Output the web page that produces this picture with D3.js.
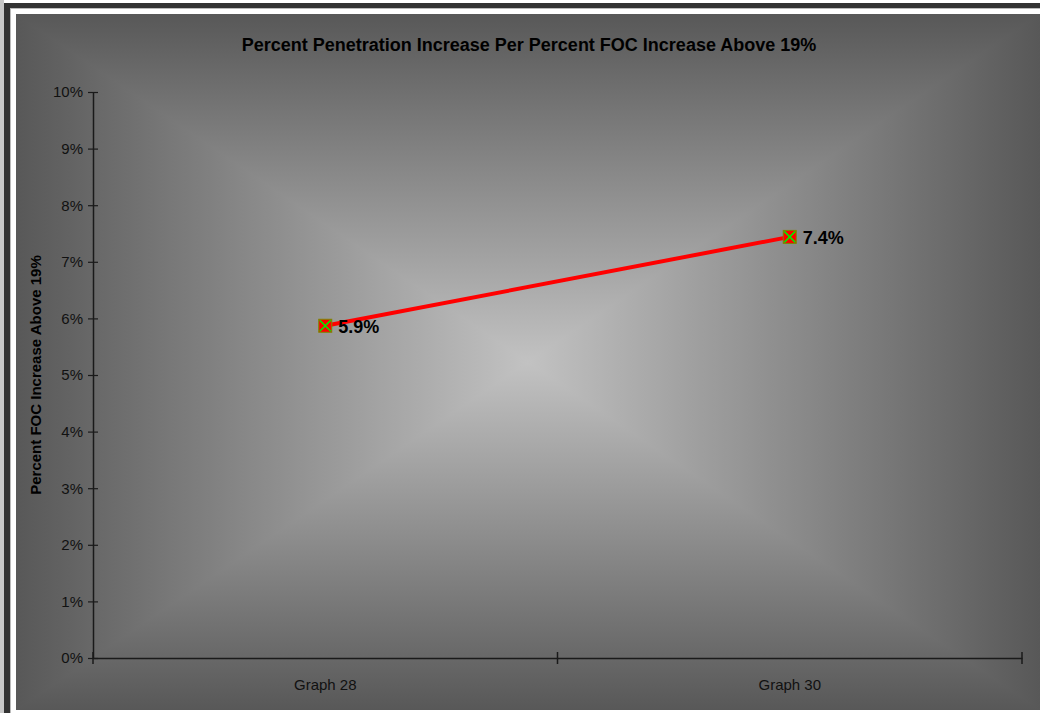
<!DOCTYPE html>
<html><head><meta charset="utf-8">
<script src="https://cdn.jsdelivr.net/npm/d3@7/dist/d3.min.js"></script>
<style>html,body{margin:0;padding:0;background:#fff;overflow:hidden}</style>
</head><body>
<svg id="c" width="1040" height="713"></svg>
<script>
const categories = ["Graph 28", "Graph 30"];
const values = [0.0587, 0.0744];
const labels = ["5.9%", "7.4%"];
const yTicks = [0,0.01,0.02,0.03,0.04,0.05,0.06,0.07,0.08,0.09,0.10];
const title = "Percent Penetration Increase Per Percent FOC Increase Above 19%";
const yTitle = "Percent FOC Increase Above 19%";

const svg = d3.select("#c");
const font = "Liberation Sans, Arial, sans-serif";

// frame
svg.append("rect").attr("x",0).attr("y",0).attr("width",4).attr("height",713).attr("fill","#c8c8c8");
svg.append("rect").attr("x",4).attr("y",3).attr("width",1036).attr("height",710).attr("fill","#333");
svg.append("rect").attr("x",10).attr("y",8).attr("width",1030).attr("height",705).attr("fill","#bbb");
svg.append("rect").attr("x",11).attr("y",9).attr("width",1029).attr("height",704).attr("fill","#fff");

// chart area with box gradient
const X0=16, Y0=14, X1=1040, Y1=710;
const cx=(X0+X1)/2, cy=(Y0+Y1)/2;
const edge="#585858", mid="#c2c2c2";
const defs = svg.append("defs");
function grad(id,x1,y1,x2,y2){
  const g=defs.append("linearGradient").attr("id",id).attr("gradientUnits","userSpaceOnUse")
    .attr("x1",x1).attr("y1",y1).attr("x2",x2).attr("y2",y2);
  g.append("stop").attr("offset",0).attr("stop-color",edge);
  g.append("stop").attr("offset",1).attr("stop-color",mid);
}
grad("gt",0,Y0,0,cy); grad("gb",0,Y1,0,cy); grad("gl",X0,0,cx,0); grad("gr",X1,0,cx,0);
svg.append("rect").attr("x",X0).attr("y",Y0).attr("width",X1-X0).attr("height",Y1-Y0).attr("fill",edge);
const clip = defs.append("clipPath").attr("id","ca");
clip.append("rect").attr("x",X0).attr("y",Y0).attr("width",X1-X0).attr("height",Y1-Y0);
const bg = svg.append("g").attr("clip-path","url(#ca)");
const tri=(pts,f)=>bg.append("polygon").attr("points",pts.map(p=>p.join(",")).join(" "))
  .attr("fill",`url(#${f})`).attr("stroke",`url(#${f})`).attr("stroke-width",1.5).attr("stroke-linejoin","round");
tri([[X0,Y0],[X1,Y0],[cx,cy]],"gt");
tri([[X0,Y1],[X1,Y1],[cx,cy]],"gb");
tri([[X0,Y0],[X0,Y1],[cx,cy]],"gl");
tri([[X1,Y0],[X1,Y1],[cx,cy]],"gr");

// scales
const x = d3.scaleBand().domain(categories).range([93,1022]);
const y = d3.scaleLinear().domain([0,0.10]).range([658,92]);

// title
svg.append("text").attr("x",529).attr("y",51).attr("text-anchor","middle")
  .attr("font-family",font).attr("font-weight","bold").attr("font-size",18).attr("fill","#000").text(title);
svg.append("text").attr("transform","translate(41,375) rotate(-90)").attr("text-anchor","middle")
  .attr("font-family",font).attr("font-weight","bold").attr("font-size",15).attr("fill","#000").text(yTitle);

// y axis
const ya = svg.append("g").attr("transform","translate(93,0)")
  .call(d3.axisLeft(y).tickValues(yTicks).tickFormat(d3.format(".0%")).tickSize(5).tickSizeOuter(0));
ya.select(".domain").attr("stroke","#1a1a1a").attr("stroke-width",1.5);
ya.selectAll(".tick line").attr("stroke","#1a1a1a").attr("stroke-width",1.2).attr("x2",-5).attr("x1",5);
ya.selectAll(".tick text").attr("x",-10).attr("font-family",font).attr("font-size",15).attr("fill","#111");

// x axis
const xa = svg.append("g").attr("transform","translate(0,658)")
  .call(d3.axisBottom(x).tickSize(0).tickSizeOuter(0));
xa.select(".domain").attr("stroke","#1a1a1a").attr("stroke-width",1.5);
xa.selectAll(".tick line").remove();
xa.selectAll(".tick text").attr("y",21).attr("dy","0.71em").attr("font-family",font).attr("font-size",15).attr("fill","#111");
const bounds=[93, 93+x.step(), 1022];
xa.selectAll(".bt").data(bounds).join("line").attr("class","bt")
  .attr("x1",d=>d).attr("x2",d=>d).attr("y1",-6).attr("y2",6).attr("stroke","#1a1a1a").attr("stroke-width",1.5);

// line
const pts = categories.map((c,i)=>({x:x(c)+x.bandwidth()/2, y:y(values[i]), l:labels[i]}));
svg.append("path").datum(pts).attr("d",d3.line().x(d=>d.x).y(d=>d.y))
  .attr("fill","none").attr("stroke","#ff0000").attr("stroke-width",4);

// markers
const m = svg.selectAll(".m").data(pts).join("g").attr("transform",d=>`translate(${d.x},${d.y})`);
m.append("rect").attr("x",-6.5).attr("y",-6.5).attr("width",13).attr("height",13).attr("fill","#ff0000").attr("stroke","#7a8a00").attr("stroke-width",1);
m.append("path").attr("d","M-5.5,-5.5L5.5,5.5M5.5,-5.5L-5.5,5.5").attr("stroke","#00ee00").attr("stroke-width",1.6);
m.append("text").attr("x",13).attr("y",7).attr("font-family",font).attr("font-weight","bold").attr("font-size",18).attr("fill","#000").text(d=>d.l);
</script>
</body></html>
